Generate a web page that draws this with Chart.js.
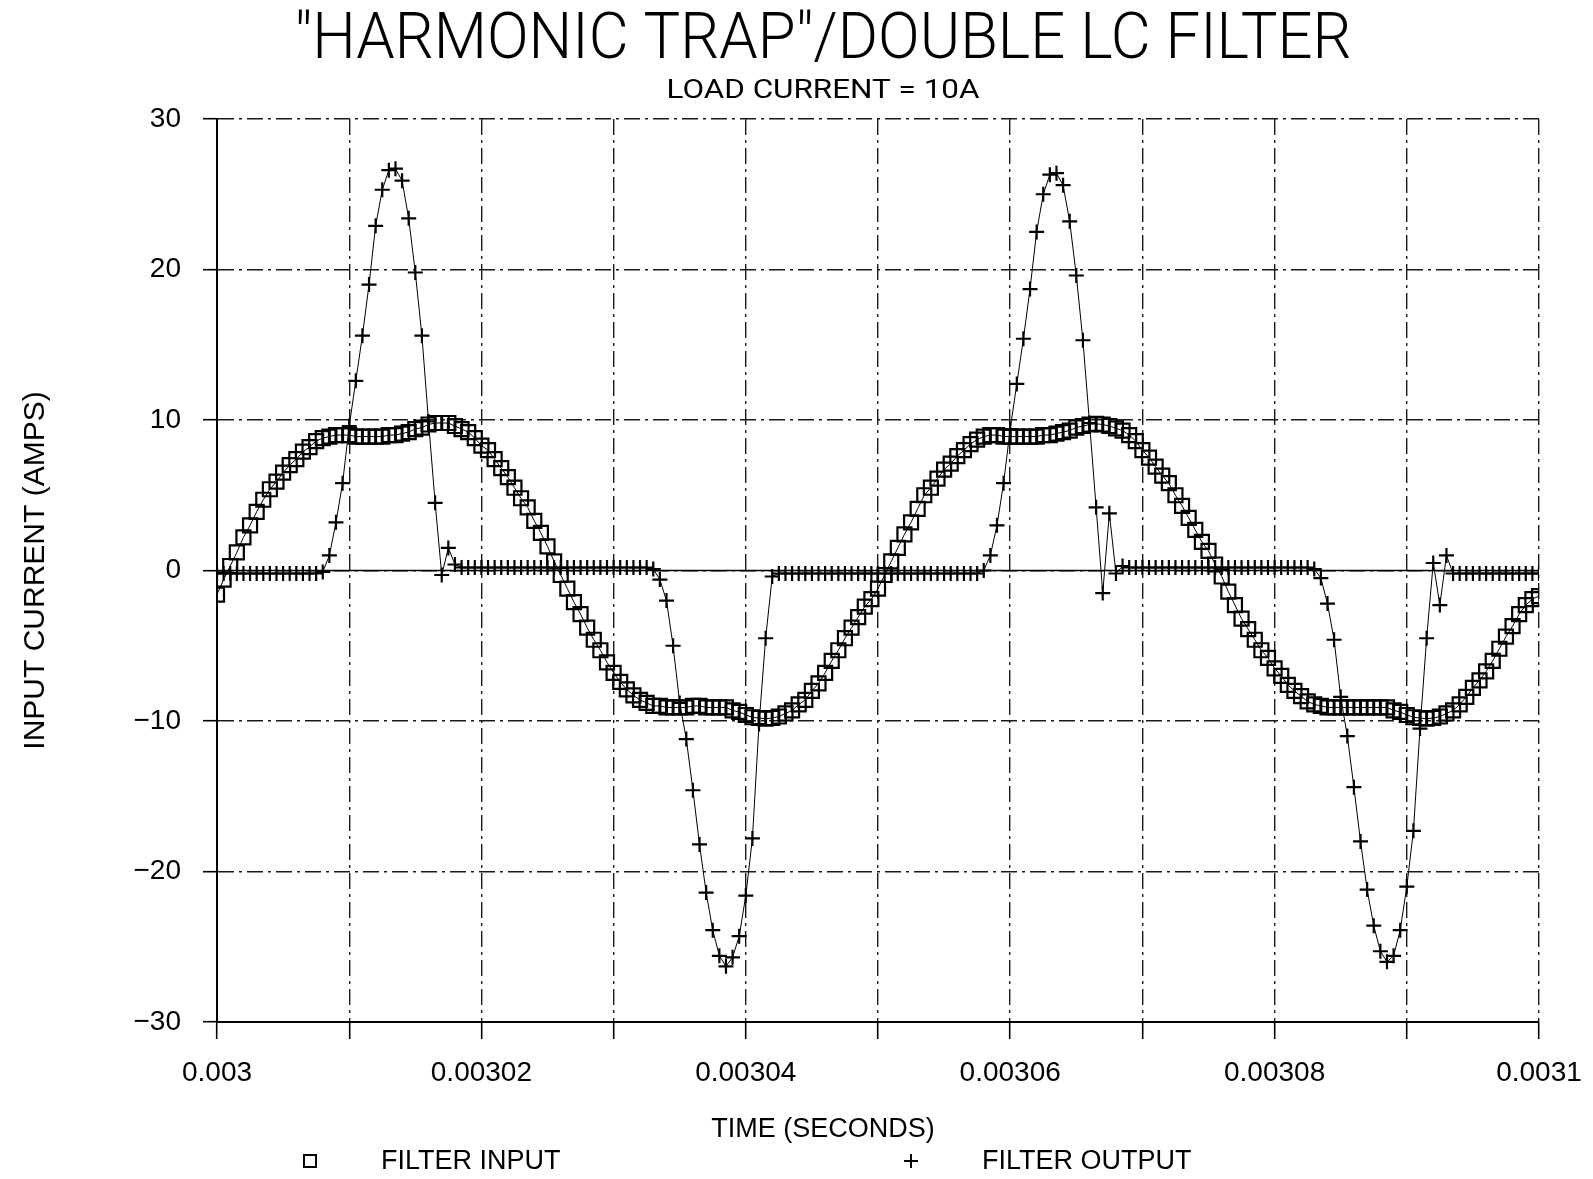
<!DOCTYPE html>
<html>
<head>
<meta charset="utf-8">
<title>Harmonic trap / double LC filter</title>
<script src="https://cdn.jsdelivr.net/npm/chart.js@4.4.1/dist/chart.umd.min.js"></script>
<style>
  html, body { margin: 0; padding: 0; background: #fff; }
  #chartFiltre { display: block; }
</style>
</head>
<body>
<canvas id="chartFiltre" width="1593" height="1179"></canvas>
<script>
/* ------------------------------------------------------------
        Courant d'entree / sortie du filtre LC double
   ------------------------------------------------------------ */

/* début données */
var debutTemps = 0.003;      // s
var pasTemps = 0.0000005;    // pas d'echantillonnage (s)
var nbPoints = 201;

var tempsEchantillons = [];
for (var i = 0; i < nbPoints; i++) {
    tempsEchantillons.push(+(debutTemps + i * pasTemps).toFixed(8));
}

// courant d'entree du filtre (A)
var entreeFiltre = [
    -1.6, -0.6, 0.3, 1.2, 2.2, 3.0, 3.9, 4.7, 5.4, 5.9,
    6.5, 7.0, 7.4, 7.9, 8.2, 8.6, 8.8, 8.9, 9.0, 9.0,
    9.0, 8.9, 8.9, 8.9, 8.9, 8.9, 9.0, 9.0, 9.1, 9.2,
    9.4, 9.5, 9.7, 9.8, 9.8, 9.8, 9.6, 9.4, 9.2, 8.8,
    8.3, 8.0, 7.4, 6.8, 6.2, 5.5, 4.8, 4.2, 3.3, 2.5,
    1.6, 0.6, -0.3, -1.2, -2.1, -2.9, -3.8, -4.6, -5.3, -6.1,
    -6.8, -7.4, -7.9, -8.3, -8.6, -8.8, -9.0, -9.0, -9.1, -9.1,
    -9.1, -9.1, -9.0, -9.0, -9.1, -9.1, -9.1, -9.1, -9.3, -9.4,
    -9.6, -9.75, -9.8, -9.85, -9.8, -9.7, -9.5, -9.3, -8.9, -8.6,
    -8.0, -7.5, -6.8, -6.0, -5.3, -4.5, -3.8, -3.1, -2.4, -1.9,
    -1.2, -0.3, 0.6, 1.5, 2.4, 3.2, 4.1, 5.0, 5.5, 6.1,
    6.7, 7.1, 7.6, 8.0, 8.4, 8.7, 8.9, 9.0, 9.0, 8.9,
    8.9, 8.9, 8.9, 8.9, 8.9, 9.0, 9.0, 9.1, 9.2, 9.3,
    9.5, 9.6, 9.7, 9.75, 9.7, 9.6, 9.45, 9.3, 9.0, 8.6,
    8.0, 7.5, 6.9, 6.3, 5.8, 5.0, 4.3, 3.5, 2.7, 1.9,
    1.3, 0.4, -0.4, -1.4, -2.3, -3.2, -3.9, -4.6, -5.3, -5.8,
    -6.5, -7.0, -7.6, -8.0, -8.35, -8.7, -8.9, -9.0, -9.1, -9.1,
    -9.1, -9.1, -9.1, -9.1, -9.1, -9.1, -9.1, -9.1, -9.3, -9.4,
    -9.6, -9.75, -9.8, -9.85, -9.8, -9.7, -9.5, -9.3, -8.9, -8.4,
    -7.8, -7.3, -6.7, -6.0, -5.2, -4.4, -3.7, -2.9, -2.3, -1.9,
    -1.7
];

// courant de sortie du filtre (A)
var sortieFiltre = [
    -0.2, -0.2, -0.2, -0.2, -0.2, -0.2, -0.2, -0.2, -0.2, -0.2,
    -0.2, -0.2, -0.2, -0.2, -0.2, -0.2, -0.1, 1.0, 3.2, 5.8,
    9.6, 12.6, 15.6, 19.0, 22.9, 25.3, 26.6, 26.7, 25.9, 23.4,
    19.8, 15.6, 9.9, 4.5, -0.3, 1.5, 0.4, 0.2, 0.2, 0.2,
    0.2, 0.2, 0.2, 0.2, 0.2, 0.2, 0.2, 0.2, 0.2, 0.2,
    0.2, 0.2, 0.2, 0.2, 0.2, 0.2, 0.2, 0.2, 0.2, 0.2,
    0.2, 0.2, 0.2, 0.2, 0.2, 0.2, 0.1, -0.6, -2.0, -5.0,
    -8.8, -11.2, -14.6, -18.2, -21.4, -23.9, -25.6, -26.3, -25.7, -24.3,
    -21.6, -17.8, -10.2, -4.5, -0.4, -0.2, -0.2, -0.2, -0.2, -0.2,
    -0.2, -0.2, -0.2, -0.2, -0.2, -0.2, -0.2, -0.2, -0.2, -0.2,
    -0.2, -0.2, -0.2, -0.2, -0.2, -0.2, -0.2, -0.2, -0.2, -0.2,
    -0.2, -0.2, -0.2, -0.2, -0.2, -0.2, 0.0, 1.0, 3.0, 5.8,
    9.4, 12.4, 15.4, 18.7, 22.5, 25.0, 26.3, 26.4, 25.6, 23.2,
    19.6, 15.3, 9.8, 4.2, -1.5, 3.8, -0.2, 0.3, 0.2, 0.2,
    0.2, 0.2, 0.2, 0.2, 0.2, 0.2, 0.2, 0.2, 0.2, 0.2,
    0.2, 0.2, 0.2, 0.2, 0.2, 0.2, 0.2, 0.2, 0.2, 0.2,
    0.2, 0.2, 0.2, 0.2, 0.2, 0.2, 0.1, -0.5, -2.2, -4.6,
    -8.4, -11.0, -14.4, -18.0, -21.2, -23.6, -25.3, -26.0, -25.6, -23.9,
    -21.0, -17.3, -10.5, -4.5, 0.5, -2.3, 1.0, -0.2, -0.2, -0.2,
    -0.2, -0.2, -0.2, -0.2, -0.2, -0.2, -0.2, -0.2, -0.2, -0.2,
    -0.2
];

var xTickLabels = ['0.003', '0.00302', '0.00304', '0.00306', '0.00308', '0.0031'];
var yTickLabels = ['\u221230', '\u221220', '\u221210', '0', '10', '20', '30'];
var serieLabels = ['FILTER INPUT', 'FILTER OUTPUT'];
var titreTexte = '"HARMONIC TRAP"/DOUBLE LC FILTER';
var sousTitreTexte = 'LOAD CURRENT = 10A';
/* fin données */

var police = "'Liberation Sans', Arial, Helvetica, sans-serif";
var policeTitre = "Roboto, 'Liberation Sans', Arial, sans-serif";

// texte centré, étiré/resserré pour tenir dans une largeur donnée
function texteLargeur(ctx, texte, cx, yBase, largeur) {
    var w = ctx.measureText(texte).width;
    ctx.save();
    ctx.translate(cx, yBase);
    ctx.scale(largeur / w, 1);
    ctx.textAlign = 'center';
    ctx.textBaseline = 'alphabetic';
    ctx.fillText(texte, 0, 0);
    ctx.restore();
}

// titres, ligne du zero, titre axe X et légende dessinés à la main
const decorFiltre = {
    id: 'decorFiltre',
    beforeDatasetsDraw: function (chart) {
        var ctx = chart.ctx;
        var zone = chart.chartArea;
        var y0 = chart.scales.y.getPixelForValue(0);
        ctx.save();
        ctx.strokeStyle = '#000';
        ctx.lineWidth = 1.6;
        ctx.beginPath();
        ctx.moveTo(zone.left, y0);
        ctx.lineTo(zone.right, y0);
        ctx.stroke();
        ctx.restore();
    },
    afterDraw: function (chart) {
        var ctx = chart.ctx;
        ctx.save();
        ctx.fillStyle = '#000';
        ctx.strokeStyle = '#000';

        ctx.font = '300 64px ' + policeTitre;
        texteLargeur(ctx, titreTexte, 823, 58, 1057);
        ctx.font = '26px ' + policeTitre;
        texteLargeur(ctx, sousTitreTexte, 823, 98, 313);

        ctx.font = '27px ' + police;
        ctx.textBaseline = 'middle';
        ctx.textAlign = 'center';
        ctx.fillText('TIME (SECONDS)', 823, 1130);

        ctx.textAlign = 'left';
        ctx.lineWidth = 2;
        ctx.strokeRect(304, 1155, 12, 12);
        ctx.fillText(serieLabels[0], 381, 1162);
        ctx.beginPath();
        ctx.moveTo(904, 1161); ctx.lineTo(918, 1161);
        ctx.moveTo(911, 1154); ctx.lineTo(911, 1168);
        ctx.stroke();
        ctx.fillText(serieLabels[1], 982, 1162);
        ctx.restore();
    }
};

const chartFiltreElem = document.getElementById('chartFiltre').getContext('2d');

const chartFiltreObj = new Chart(chartFiltreElem, {
    type: 'line',
    data: {
        labels: tempsEchantillons,
        datasets: [
            {
                label: serieLabels[0],
                data: entreeFiltre,
                borderColor: '#000',
                borderWidth: 1,
                backgroundColor: 'transparent',
                pointStyle: 'rect',
                pointRadius: 9.9,
                pointBorderWidth: 2.2,
                pointBorderColor: '#000',
                pointBackgroundColor: 'transparent',
                order: 2
            },
            {
                label: serieLabels[1],
                data: sortieFiltre,
                borderColor: '#000',
                borderWidth: 1,
                backgroundColor: 'transparent',
                pointStyle: 'cross',
                pointRadius: 7.5,
                pointBorderWidth: 2.2,
                pointBorderColor: '#000',
                order: 1
            }
        ]
    },
    options: {
        responsive: false,
        animation: false,
        devicePixelRatio: 1,
        layout: { padding: { left: 0, right: 54, top: 119, bottom: 0 } },
        plugins: {
            legend: { display: false },
            tooltip: { enabled: false },
            title: { display: false }
        },
        scales: {
            x: {
                type: 'linear',
                min: 0.003,
                max: 0.0031,
                grid: { color: '#1a1a1a', lineWidth: 1.4, tickColor: '#000', tickWidth: 1.6, tickLength: 17, tickBorderDash: [] },
                border: { display: true, color: '#000', width: 2, dash: [16, 5, 3, 5] },
                ticks: {
                    stepSize: 0.00001,
                    autoSkip: false,
                    maxRotation: 0,
                    padding: 17,
                    color: '#000',
                    font: { family: police, size: 28 },
                    callback: function (value) {
                        var k = Math.round((value - 0.003) / 0.00001);
                        return k % 2 === 0 ? xTickLabels[k / 2] : '';
                    }
                },
                afterFit: function (scale) {
                    scale.height = 157;
                    scale.paddingRight = 40;
                }
            },
            y: {
                min: -30,
                max: 30,
                grid: { color: '#1a1a1a', lineWidth: 1.4, tickColor: '#000', tickWidth: 1.6, tickLength: 14, tickBorderDash: [] },
                border: { display: true, color: '#000', width: 2, dash: [16, 5, 3, 5] },
                ticks: {
                    stepSize: 10,
                    padding: 22,
                    color: '#000',
                    font: { family: police, size: 28 },
                    callback: function (value) {
                        return yTickLabels[Math.round((value + 30) / 10)];
                    }
                },
                title: {
                    display: true,
                    text: 'INPUT CURRENT (AMPS)',
                    color: '#000',
                    font: { family: police, size: 30 },
                    padding: { top: 18, bottom: 0 }
                },
                afterFit: function (scale) { scale.width = 217; }
            }
        }
    },
    plugins: [decorFiltre]
});
</script>
</body>
</html>
